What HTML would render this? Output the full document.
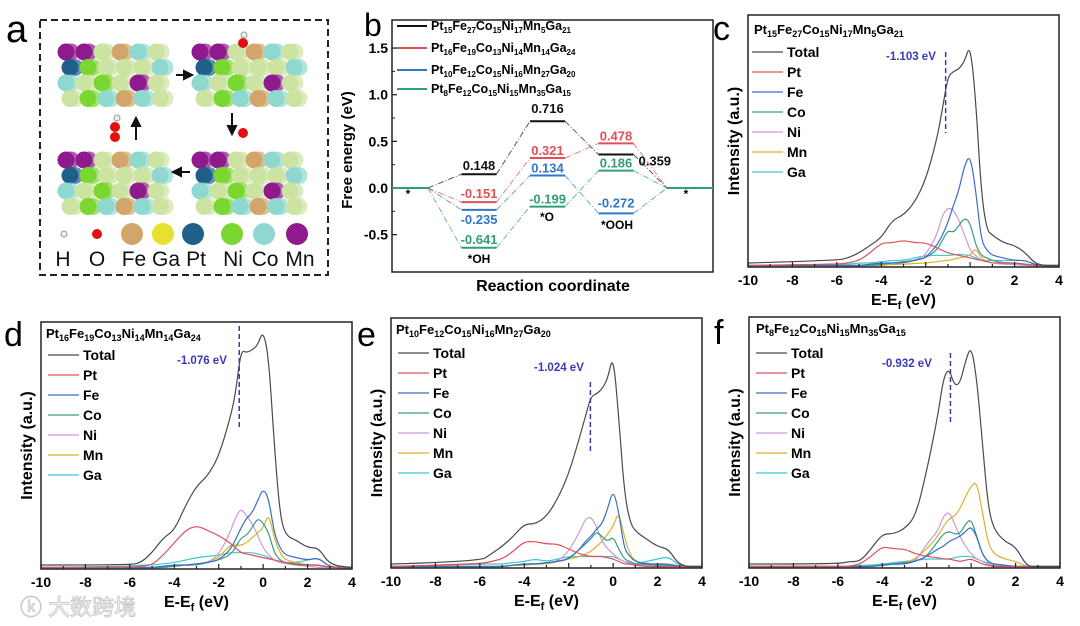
<!DOCTYPE html>
<html><head><meta charset="utf-8"><style>
html,body{margin:0;padding:0;background:#fff;}
svg{display:block;font-family:"Liberation Sans","Noto Sans CJK SC",sans-serif;}
.b{font-weight:bold;}
</style></head><body>
<svg id="fig" width="1080" height="626" viewBox="0 0 1080 626" xmlns="http://www.w3.org/2000/svg">
<rect width="1080" height="626" fill="#fff"/>
<!-- Panel a -->
<g id="pa">
<text x="6" y="42" font-size="38">a</text>
<rect x="40" y="20" width="288" height="255" fill="none" stroke="#222" stroke-width="2" stroke-dasharray="7,4"/>
<g id="slabs"></g>
<g stroke="#111" stroke-width="2" fill="#111">
<line x1="176" y1="75" x2="186" y2="75"/><polygon points="192,75 184,71 184,79"/>
<line x1="232" y1="113" x2="232" y2="127"/><polygon points="232,134 228,126 236,126"/>
<line x1="190" y1="172" x2="180" y2="172"/><polygon points="173,172 181,168 181,176"/>
<line x1="136" y1="140" x2="136" y2="126"/><polygon points="136,118 132,126 140,126"/>
</g>
<g>
<circle cx="64" cy="234" r="3" fill="#eee" stroke="#999"/>
<circle cx="97" cy="234" r="5" fill="#e01010"/>
<circle cx="132" cy="234" r="11" fill="#d2a66a"/>
<circle cx="163" cy="234" r="11" fill="#e6e030"/>
<circle cx="193" cy="234" r="11" fill="#1f5f8a"/>
<circle cx="232" cy="234" r="11" fill="#7ad630"/>
<circle cx="264" cy="234" r="11" fill="#8fd8d0"/>
<circle cx="297" cy="234" r="11" fill="#8e1a8e"/>
<g font-size="21" text-anchor="middle" fill="#111">
<text x="63" y="266">H</text><text x="97" y="266">O</text><text x="134" y="266">Fe</text><text x="166" y="266">Ga</text><text x="196" y="266">Pt</text><text x="233" y="266">Ni</text><text x="265" y="266">Co</text><text x="300" y="266">Mn</text>
</g></g>
</g>
<!-- Panel b -->
<g id="pb">
<text x="364" y="36" font-size="32">b</text>
<rect x="392" y="20" width="321" height="252" fill="none" stroke="#222" stroke-width="1.5"/>
<g id="bticks"></g>
<text transform="translate(352,150) rotate(-90)" text-anchor="middle" font-size="15" class="b">Free energy (eV)</text>
<text x="553" y="291" text-anchor="middle" font-size="16" class="b">Reaction coordinate</text>
<g id="blevels"></g>
<g font-size="12.5" class="b">
<line x1="397" y1="26" x2="427" y2="26" stroke="#111" stroke-width="2"/>
<text x="431" y="30">Pt<tspan font-size="8" baseline-shift="-3">15</tspan>Fe<tspan font-size="8" baseline-shift="-3">27</tspan>Co<tspan font-size="8" baseline-shift="-3">15</tspan>Ni<tspan font-size="8" baseline-shift="-3">17</tspan>Mn<tspan font-size="8" baseline-shift="-3">5</tspan>Ga<tspan font-size="8" baseline-shift="-3">21</tspan></text>
<line x1="397" y1="48" x2="427" y2="48" stroke="#e05058" stroke-width="2"/>
<text x="431" y="52">Pt<tspan font-size="8" baseline-shift="-3">16</tspan>Fe<tspan font-size="8" baseline-shift="-3">19</tspan>Co<tspan font-size="8" baseline-shift="-3">13</tspan>Ni<tspan font-size="8" baseline-shift="-3">14</tspan>Mn<tspan font-size="8" baseline-shift="-3">14</tspan>Ga<tspan font-size="8" baseline-shift="-3">24</tspan></text>
<line x1="397" y1="70" x2="427" y2="70" stroke="#2f78c8" stroke-width="2"/>
<text x="431" y="74">Pt<tspan font-size="8" baseline-shift="-3">10</tspan>Fe<tspan font-size="8" baseline-shift="-3">12</tspan>Co<tspan font-size="8" baseline-shift="-3">15</tspan>Ni<tspan font-size="8" baseline-shift="-3">16</tspan>Mn<tspan font-size="8" baseline-shift="-3">27</tspan>Ga<tspan font-size="8" baseline-shift="-3">20</tspan></text>
<line x1="397" y1="89" x2="427" y2="89" stroke="#30a070" stroke-width="2"/>
<text x="431" y="93">Pt<tspan font-size="8" baseline-shift="-3">8</tspan>Fe<tspan font-size="8" baseline-shift="-3">12</tspan>Co<tspan font-size="8" baseline-shift="-3">15</tspan>Ni<tspan font-size="8" baseline-shift="-3">15</tspan>Mn<tspan font-size="8" baseline-shift="-3">35</tspan>Ga<tspan font-size="8" baseline-shift="-3">15</tspan></text>
</g>
<g font-size="12" class="b" text-anchor="middle">
<text x="408" y="198">*</text><text x="686" y="198">*</text>
<text x="479" y="263">*OH</text><text x="547" y="221">*O</text><text x="617" y="229">*OOH</text>
</g>
</g>
<!-- DOS panels -->
<g font-size="34">
<text x="713" y="40">c</text><text x="4" y="346">d</text><text x="357" y="346">e</text><text x="714" y="344">f</text>
</g>
<g id="dosc"></g>
<g id="dosd"></g>
<g id="dose"></g>
<g id="dosf"></g>
<g class="b" font-size="13">
<text x="754" y="34">Pt<tspan font-size="9" baseline-shift="-3">15</tspan>Fe<tspan font-size="9" baseline-shift="-3">27</tspan>Co<tspan font-size="9" baseline-shift="-3">15</tspan>Ni<tspan font-size="9" baseline-shift="-3">17</tspan>Mn<tspan font-size="9" baseline-shift="-3">5</tspan>Ga<tspan font-size="9" baseline-shift="-3">21</tspan></text>
<text x="46" y="338">Pt<tspan font-size="9" baseline-shift="-3">16</tspan>Fe<tspan font-size="9" baseline-shift="-3">19</tspan>Co<tspan font-size="9" baseline-shift="-3">13</tspan>Ni<tspan font-size="9" baseline-shift="-3">14</tspan>Mn<tspan font-size="9" baseline-shift="-3">14</tspan>Ga<tspan font-size="9" baseline-shift="-3">24</tspan></text>
<text x="396" y="334">Pt<tspan font-size="9" baseline-shift="-3">10</tspan>Fe<tspan font-size="9" baseline-shift="-3">12</tspan>Co<tspan font-size="9" baseline-shift="-3">15</tspan>Ni<tspan font-size="9" baseline-shift="-3">16</tspan>Mn<tspan font-size="9" baseline-shift="-3">27</tspan>Ga<tspan font-size="9" baseline-shift="-3">20</tspan></text>
<text x="756" y="333">Pt<tspan font-size="9" baseline-shift="-3">8</tspan>Fe<tspan font-size="9" baseline-shift="-3">12</tspan>Co<tspan font-size="9" baseline-shift="-3">15</tspan>Ni<tspan font-size="9" baseline-shift="-3">15</tspan>Mn<tspan font-size="9" baseline-shift="-3">35</tspan>Ga<tspan font-size="9" baseline-shift="-3">15</tspan></text>
</g>
<text x="20" y="615" font-size="22" fill="#fff" stroke="#ccc" stroke-width="1">ⓚ 大数跨境</text>
</svg>
<script>
// ---------- Panel b data ----------
const stages = ['*','*OH','*O','*OOH','*'];
const gBlack = [0, 0.148, 0.716, 0.359, 0];
const gRed   = [0, -0.151, 0.321, 0.478, 0];
const gBlue  = [0, -0.235, 0.134, -0.272, 0];
const gGreen = [0, -0.641, -0.199, 0.186, 0];
const bTicks = [1.5, 1.0, 0.5, 0.0, -0.5];
const bTickLabels = ['1.5','1.0','0.5','0.0','-0.5'];
// ---------- DOS data (shared energy grid, eV) ----------
const E = [-10,-6,-5.5,-5,-4.5,-4,-3.5,-3,-2.5,-2,-1.5,-1.25,-1,-0.75,-0.5,-0.25,0,0.25,0.5,0.75,1,1.5,2,2.5,3,4];
const xTicks = [-10,-8,-6,-4,-2,0,2,4];
const xTickLabels = ['-10','-8','-6','-4','-2','0','2','4'];
const dbandC = -1.103, dbandD = -1.076, dbandE = -1.024, dbandF = -0.932;
const cTotal=[.01,.02,.03,.05,.08,.11,.18,.2,.25,.34,.5,.62,.75,.77,.78,.81,.88,.66,.29,.14,.12,.09,.08,.05,0,0];
const cPt=[0,.005,.01,.02,.05,.09,.09,.1,.09,.09,.07,.06,.05,.045,.04,.035,.03,.025,.02,.015,.01,.01,.01,.005,0,0];
const cFe=[0,0,0,0,.005,.01,.01,.01,.02,.03,.08,.12,.17,.24,.3,.4,.44,.3,.1,.06,.04,.03,.02,.02,0,0];
const cCo=[0,0,0,0,0,.005,.01,.015,.02,.03,.06,.1,.14,.13,.16,.19,.17,.08,.04,.03,.02,.01,.01,.005,0,0];
const cNi=[0,0,0,0,0,.005,.01,.015,.02,.04,.12,.2,.23,.22,.18,.12,.06,.04,.02,.015,.01,.005,.005,0,0,0];
const cMn=[0,0,0,0,0,0,.005,.005,.008,.01,.015,.018,.02,.025,.03,.035,.04,.07,.03,.015,.01,.005,.005,0,0,0];
const cGa=[0,.005,.005,.01,.01,.015,.02,.02,.03,.04,.04,.04,.04,.042,.045,.042,.04,.03,.02,.02,.02,.02,.02,.02,0,0];
const dTotal=[.01,.01,.02,.06,.12,.15,.25,.33,.37,.45,.6,.7,.88,.87,.88,.9,.96,.85,.5,.22,.13,.11,.08,.08,.01,0];
const dPt=[0,0,.005,.01,.05,.1,.15,.17,.15,.13,.1,.08,.06,.055,.05,.045,.04,.035,.03,.025,.02,.015,.01,.01,0,0];
const dFe=[0,0,0,0,.005,.01,.01,.015,.02,.03,.07,.11,.16,.2,.22,.27,.32,.28,.14,.08,.05,.04,.03,.04,0,0];
const dCo=[0,0,0,0,0,.005,.01,.01,.02,.03,.05,.08,.12,.13,.16,.2,.18,.14,.06,.03,.02,.01,.01,.01,0,0];
const dNi=[0,0,0,0,0,.005,.01,.015,.02,.05,.14,.2,.24,.21,.18,.13,.08,.05,.03,.02,.015,.01,.005,0,0,0];
const dMn=[0,0,0,0,0,.005,.01,.01,.02,.04,.09,.09,.09,.1,.12,.14,.16,.22,.12,.06,.03,.02,.01,.01,0,0];
const dGa=[0,.005,.01,.01,.015,.02,.03,.04,.045,.05,.06,.06,.06,.06,.06,.055,.05,.04,.03,.025,.02,.02,.03,.04,0,0];
const eTotal=[.01,.02,.05,.08,.12,.17,.17,.2,.27,.37,.52,.6,.68,.69,.71,.75,.85,.6,.3,.18,.14,.11,.08,.07,0,0];
const ePt=[0,.01,.02,.03,.06,.1,.1,.09,.09,.07,.05,.045,.04,.04,.04,.035,.03,.02,.01,.01,.005,0,0,0,0,0];
const eFe=[0,0,0,0,.005,.01,.01,.015,.02,.03,.07,.1,.12,.15,.17,.23,.31,.22,.07,.04,.02,.01,.01,.01,0,0];
const eCo=[0,0,0,0,.005,.01,.01,.015,.02,.03,.07,.09,.11,.14,.12,.1,.12,.07,.03,.02,.01,.01,.005,.005,0,0];
const eNi=[0,0,0,0,.005,.01,.01,.015,.02,.06,.14,.19,.2,.16,.1,.07,.05,.03,.02,.01,.01,.005,0,0,0,0];
const eMn=[0,0,0,0,.005,.005,.01,.01,.02,.03,.04,.05,.06,.08,.1,.13,.16,.22,.12,.05,.02,.01,.01,.01,0,0];
const eGa=[0,.01,.01,.01,.015,.02,.03,.02,.03,.04,.04,.04,.04,.04,.04,.04,.04,.03,.02,.015,.01,.02,.03,.04,0,0];
const fTotal=[.01,.01,.02,.02,.07,.13,.13,.15,.2,.38,.6,.75,.79,.72,.73,.82,.88,.75,.5,.25,.15,.1,.08,0,0,0];
const fPt=[0,0,0,.01,.04,.08,.07,.07,.05,.04,.035,.03,.03,.025,.02,.025,.03,.02,.01,.005,0,0,0,0,0,0];
const fFe=[0,0,0,0,0,.005,.01,.01,.02,.04,.07,.08,.1,.11,.12,.14,.16,.12,.05,.02,.01,.005,0,0,0,0];
const fCo=[0,0,0,0,0,.005,.01,.015,.02,.04,.1,.13,.14,.13,.13,.17,.19,.12,.05,.02,.01,.005,0,0,0,0];
const fNi=[0,0,0,0,0,.005,.01,.01,.02,.09,.14,.2,.22,.17,.12,.08,.05,.03,.02,.01,.005,0,0,0,0,0];
const fMn=[0,0,0,0,0,.005,.01,.015,.03,.07,.12,.16,.19,.2,.23,.28,.32,.34,.22,.1,.05,.03,.02,0,0,0];
const fGa=[0,0,0,.005,.005,.01,.015,.02,.025,.03,.03,.03,.03,.035,.04,.04,.04,.03,.02,.015,.01,.005,0,0,0,0];
const seriesNames = ['Total','Pt','Fe','Co','Ni','Mn','Ga'];

const NS='http://www.w3.org/2000/svg';
function mk(tag, attrs, parent){const e=document.createElementNS(NS,tag);for(const k in attrs)e.setAttribute(k,attrs[k]);parent.appendChild(e);return e;}

// ----- Panel a slabs -----
const slabPattern=[['M','M','G','F','C','G'],['P','N','G','G','G','C'],['C','G','N','G','M','G'],['G','N','C','F','C','G']];
const atomCol={M:'#8e1a8e',C:'#8fd8d0',F:'#d2a66a',N:'#7ad630',P:'#1f5f8a',G:'#cde3a2'};
const slabOrigins=[[66,52],[200,52],[66,160],[200,160]];
const slabs=document.getElementById('slabs');
slabOrigins.forEach((o,si)=>{
  const g=mk('g',{},slabs);
  
  
  slabPattern.forEach((row,r)=>row.forEach((a,c)=>{
    const cx=o[0]+c*18+(r%2?4:0), cy=o[1]+r*15.5;
    mk('circle',{cx:cx+5,cy:cy,r:8.5,fill:atomCol[a],opacity:0.7},g);
    mk('circle',{cx:cx,cy:cy,r:8.5,fill:atomCol[a]},g);
  }));
});
const ads=[[243,43,5,'#e01010'],[244,35,3,'#eee'],[243,133,5,'#e01010'],[115,137,5,'#e01010'],[115,127,5,'#e01010'],[117,118,3,'#eee']];
ads.forEach(a=>{const c=mk('circle',{cx:a[0],cy:a[1],r:a[2],fill:a[3],stroke:a[3]=='#eee'?'#999':'none'},slabs);

});

// ----- Panel b -----
const bBox={l:392,r:713,t:20,b:272};
const y0b=188, kb=93.3;
function by(v){return y0b-v*kb;}
function bx(i){return 393+68.5*i;}
const bt=document.getElementById('bticks');
bTicks.forEach((v,i)=>{
  mk('line',{x1:bBox.l,x2:bBox.l+5,y1:by(v),y2:by(v),stroke:'#222','stroke-width':1.3},bt);
  const t=mk('text',{x:bBox.l-4,y:by(v)+5,'text-anchor':'end','font-size':14,'font-weight':'bold'},bt);
  t.textContent=bTickLabels[i];
  
  
  if(i<bTicks.length-1) mk('line',{x1:bBox.l,x2:bBox.l+3,y1:by(v-0.25),y2:by(v-0.25),stroke:'#222'},bt);
});
const bl=document.getElementById('blevels');
const bSeries=[[gBlack,'#111','#111',[-9,-13,6,-9]],[gRed,'#e05058','#e05058',[-9,-8,-8,0]],[gBlue,'#2f78c8','#2f78c8',[9,-8,-11,-9]],[gGreen,'#30a070','#30a070',[-9,-8,-8,0]]];
bSeries.forEach((s,si)=>{
  const vals=s[0];
  const g=mk('g',{},bl);
  
  
  for(let i=0;i<vals.length;i++){
    const x1=i==0?bBox.l:bx(i), x2=i==vals.length-1?bBox.r:bx(i)+35;
    mk('line',{x1:x1,x2:x2,y1:by(vals[i]),y2:by(vals[i]),stroke:s[1],'stroke-width':2},g);
    if(i<vals.length-1){
      const xa=bx(i)+35;
      mk('line',{x1:xa,y1:by(vals[i]),x2:bx(i+1),y2:by(vals[i+1]),stroke:s[1],'stroke-width':1,'stroke-dasharray':'6,2,1,2',opacity:0.7},g);
    }
  }
  for(let i=1;i<4;i++){
    const side=(si==0&&i==3);
    const t=mk('text',{x:side?bx(i)+40:bx(i)+17.5,y:by(vals[i])+s[3][i-1]+5,'text-anchor':side?'start':'middle','font-size':13,'font-weight':'bold',fill:s[2]},g);
    t.textContent=vals[i].toFixed(3);
    
    
  }
});
// ----- DOS panels -----
const colors=['#4a4a4a','#e0505a','#3a6fc4','#3a9a8a','#c79bd8','#d9b32a','#3ec8d0'];
function drawDOS(id, box, series, dband, legendX, legendY, markTop, markBot, markLblX, markLblY){
  const g=document.getElementById(id);
  const xs=v=>box.l+(v+10)/14*(box.r-box.l);
  const ys=v=>box.b-1.5-v*(box.b-box.t);
  const clip='clip'+id;
  const cp=mk('clipPath',{id:clip},g); mk('rect',{x:box.l,y:box.t,width:box.r-box.l,height:box.b-box.t},cp);
  const cg=mk('g',{'clip-path':'url(#'+clip+')'},g);
  for(let s=series.length-1;s>=0;s--){
    const vals=series[s];
    const pts=E.map((e,i)=>[xs(e),ys(vals[i])]);
    let d='M'+pts[0][0]+','+pts[0][1];
    for(let i=1;i<pts.length-1;i++){
      const mx=(pts[i][0]+pts[i+1][0])/2,my=(pts[i][1]+pts[i+1][1])/2;
      d+=' Q'+pts[i][0]+','+pts[i][1]+' '+mx+','+my;
    }
    d+=' L'+pts[pts.length-1][0]+','+pts[pts.length-1][1];
    const p=mk('path',{d:d,fill:'none',stroke:colors[s],'stroke-width':1.2},cg);
    
    
  }
  const fr=mk('rect',{x:box.l,y:box.t,width:box.r-box.l,height:box.b-box.t,fill:'none',stroke:'#222','stroke-width':1.5},g);
  
  
  for(let v=-10;v<=4;v++){
    mk('line',{x1:xs(v),x2:xs(v),y1:box.b,y2:box.b-(v%2==0?5:3),stroke:'#222','stroke-width':1.2},g);
  }
  xTicks.forEach((v,i)=>{
    const t=mk('text',{x:xs(v),y:box.b+18,'text-anchor':'middle','font-size':14,'font-weight':'bold'},g);
    t.textContent=xTickLabels[i];
    
    
  });
  const xt=mk('text',{x:(box.l+box.r)/2,y:box.b+38,'text-anchor':'middle','font-size':16,'font-weight':'bold'},g);
  xt.innerHTML='E-E<tspan font-size="11" baseline-shift="-4">f</tspan> (eV)';
  
  
  const yt=mk('text',{transform:'translate('+(box.l-9)+','+((box.t+box.b)/2)+') rotate(-90)','text-anchor':'middle','font-size':16,'font-weight':'bold'},g);
  yt.textContent='Intensity (a.u.)';
  
  
  seriesNames.forEach((n,i)=>{
    const yy=legendY+i*20;
    mk('line',{x1:legendX,x2:legendX+31,y1:yy,y2:yy,stroke:colors[i],'stroke-width':1.3},g);
    const t=mk('text',{x:legendX+35,y:yy+5,'font-size':14,'font-weight':'bold'},g);
    t.textContent=n;
    
    
  });
  const ml=mk('line',{x1:xs(dband),x2:xs(dband),y1:markTop,y2:markBot,stroke:'#3a3ab8','stroke-width':1.5,'stroke-dasharray':'5,3'},g);
  
  
  const mt=mk('text',{x:markLblX,y:markLblY,'font-size':11.5,'font-weight':'bold',fill:'#3a3ab8'},g);
  mt.textContent=dband.toFixed(3)+' eV';
  
  
}
drawDOS('dosc',{l:748,r:1059,t:15,b:267},[cTotal,cPt,cFe,cCo,cNi,cMn,cGa],dbandC,752,52,52,133,886,60);
drawDOS('dosd',{l:41,r:352,t:322,b:569},[dTotal,dPt,dFe,dCo,dNi,dMn,dGa],dbandD,48,355,326,430,177,364);
drawDOS('dose',{l:391,r:702,t:318,b:568},[eTotal,ePt,eFe,eCo,eNi,eMn,eGa],dbandE,398,353,382,452,534,371);
drawDOS('dosf',{l:749,r:1060,t:317,b:568},[fTotal,fPt,fFe,fCo,fNi,fMn,fGa],dbandF,756,353,353,423,882,367);
</script>
</body></html>
